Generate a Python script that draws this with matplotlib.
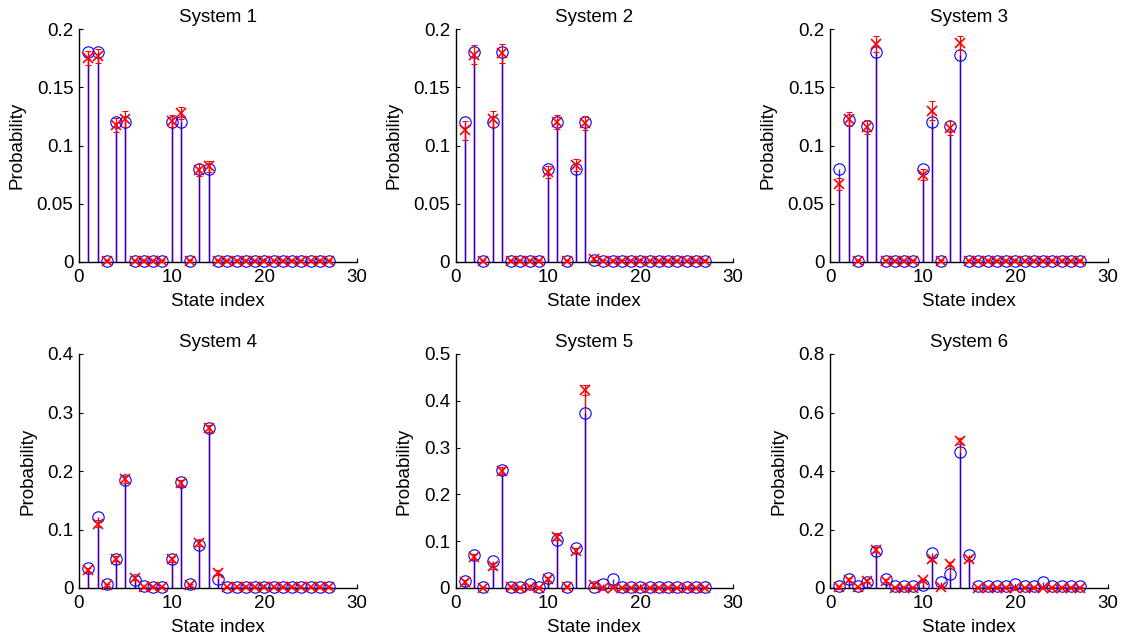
import matplotlib
matplotlib.use("Agg")
import matplotlib.pyplot as plt
import numpy as np
from matplotlib.ticker import FuncFormatter

plt.rcParams['font.family'] = ['Liberation Sans', 'DejaVu Sans']

states = list(range(1, 28))

# Theory (blue circles)
theory_1 = [0.18, 0.18, 0.001, 0.12, 0.12, 0.001, 0.001, 0.001, 0.001, 0.12, 0.12, 0.001, 0.08, 0.08,
            0.001, 0.001, 0.001, 0.001, 0.001, 0.001, 0.001, 0.001, 0.001, 0.001, 0.001, 0.001, 0.001]
theory_2 = [0.12, 0.18, 0.001, 0.12, 0.18, 0.001, 0.001, 0.001, 0.001, 0.08, 0.12, 0.001, 0.08, 0.12,
            0.002, 0.001, 0.001, 0.001, 0.001, 0.001, 0.001, 0.001, 0.001, 0.001, 0.001, 0.001, 0.001]
theory_3 = [0.08, 0.122, 0.001, 0.117, 0.18, 0.001, 0.001, 0.001, 0.001, 0.08, 0.12, 0.001, 0.117, 0.178,
            0.001, 0.001, 0.001, 0.001, 0.001, 0.001, 0.001, 0.001, 0.001, 0.001, 0.001, 0.001, 0.001]
theory_4 = [0.034, 0.122, 0.007, 0.05, 0.185, 0.013, 0.003, 0.002, 0.002, 0.05, 0.182, 0.007, 0.074, 0.273,
            0.015, 0.002, 0.002, 0.002, 0.002, 0.002, 0.002, 0.002, 0.002, 0.002, 0.002, 0.002, 0.002]
theory_5 = [0.016, 0.07, 0.003, 0.058, 0.252, 0.003, 0.003, 0.008, 0.002, 0.022, 0.102, 0.003, 0.085, 0.373,
            0.003, 0.008, 0.019, 0.002, 0.002, 0.002, 0.002, 0.002, 0.002, 0.002, 0.002, 0.002, 0.002]
theory_6 = [0.006, 0.031, 0.006, 0.02, 0.125, 0.031, 0.006, 0.006, 0.006, 0.011, 0.12, 0.019, 0.049, 0.465,
            0.112, 0.006, 0.006, 0.006, 0.006, 0.014, 0.006, 0.006, 0.02, 0.006, 0.006, 0.006, 0.006]

# Experiment (red crosses)
exp_1 = [0.175, 0.177, 0.001, 0.118, 0.123, 0.001, 0.001, 0.001, 0.001, 0.121, 0.128, 0.001, 0.079, 0.082,
         0.001, 0.001, 0.001, 0.001, 0.001, 0.001, 0.001, 0.001, 0.001, 0.001, 0.001, 0.001, 0.001]
exp_2 = [0.113, 0.178, 0.001, 0.123, 0.179, 0.001, 0.001, 0.001, 0.001, 0.077, 0.12, 0.001, 0.083, 0.119,
         0.003, 0.001, 0.001, 0.001, 0.001, 0.001, 0.001, 0.001, 0.001, 0.001, 0.001, 0.001, 0.001]
exp_3 = [0.067, 0.123, 0.001, 0.116, 0.187, 0.001, 0.001, 0.001, 0.001, 0.075, 0.13, 0.001, 0.115, 0.188,
         0.001, 0.001, 0.001, 0.001, 0.001, 0.001, 0.001, 0.001, 0.001, 0.001, 0.001, 0.001, 0.001]
exp_4 = [0.031, 0.11, 0.005, 0.05, 0.186, 0.017, 0.001, 0.001, 0.001, 0.049, 0.18, 0.005, 0.077, 0.273,
         0.026, 0.001, 0.001, 0.001, 0.001, 0.001, 0.001, 0.001, 0.001, 0.001, 0.001, 0.001, 0.001]
exp_5 = [0.013, 0.067, 0.001, 0.047, 0.251, 0.002, 0.001, 0.002, 0.001, 0.019, 0.11, 0.002, 0.08, 0.423,
         0.007, 0.001, 0.001, 0.001, 0.001, 0.001, 0.001, 0.001, 0.001, 0.001, 0.001, 0.001, 0.001]
exp_6 = [0.002, 0.029, 0.002, 0.025, 0.131, 0.025, 0.001, 0.001, 0.001, 0.026, 0.099, 0.003, 0.083, 0.503,
         0.099, 0.001, 0.001, 0.001, 0.001, 0.001, 0.001, 0.001, 0.001, 0.001, 0.001, 0.001, 0.001]

# Experimental error bars
err_1 = [0.006, 0.006, 0.001, 0.006, 0.007, 0.001, 0.001, 0.001, 0.001, 0.005, 0.005, 0.001, 0.005, 0.005,
         0.001, 0.001, 0.001, 0.001, 0.001, 0.001, 0.001, 0.001, 0.001, 0.001, 0.001, 0.001, 0.001]
err_2 = [0.008, 0.008, 0.001, 0.007, 0.008, 0.001, 0.001, 0.001, 0.001, 0.005, 0.006, 0.001, 0.005, 0.006,
         0.001, 0.001, 0.001, 0.001, 0.001, 0.001, 0.001, 0.001, 0.001, 0.001, 0.001, 0.001, 0.001]
err_3 = [0.005, 0.006, 0.001, 0.006, 0.007, 0.001, 0.001, 0.001, 0.001, 0.005, 0.008, 0.001, 0.006, 0.006,
         0.001, 0.001, 0.001, 0.001, 0.001, 0.001, 0.001, 0.001, 0.001, 0.001, 0.001, 0.001, 0.001]
err_4 = [0.004, 0.006, 0.002, 0.004, 0.006, 0.004, 0.001, 0.001, 0.001, 0.004, 0.005, 0.002, 0.005, 0.006,
         0.004, 0.001, 0.001, 0.001, 0.001, 0.001, 0.001, 0.001, 0.001, 0.001, 0.001, 0.001, 0.001]
err_5 = [0.005, 0.006, 0.002, 0.006, 0.008, 0.002, 0.001, 0.002, 0.001, 0.005, 0.008, 0.002, 0.006, 0.01,
         0.004, 0.001, 0.001, 0.001, 0.001, 0.001, 0.001, 0.001, 0.001, 0.001, 0.001, 0.001, 0.001]
err_6 = [0.004, 0.006, 0.003, 0.005, 0.008, 0.005, 0.002, 0.002, 0.002, 0.005, 0.008, 0.003, 0.007, 0.01,
         0.007, 0.002, 0.002, 0.002, 0.002, 0.002, 0.002, 0.002, 0.002, 0.002, 0.002, 0.002, 0.002]

titles = ["System 1", "System 2", "System 3", "System 4", "System 5", "System 6"]
theories = [theory_1, theory_2, theory_3, theory_4, theory_5, theory_6]
exps = [exp_1, exp_2, exp_3, exp_4, exp_5, exp_6]
errs = [err_1, err_2, err_3, err_4, err_5, err_6]
ylims = [0.2, 0.2, 0.2, 0.4, 0.5, 0.8]
ysteps = [0.05, 0.05, 0.05, 0.1, 0.1, 0.2]

W, H = 1124, 640
fig = plt.figure(figsize=(W / 100, H / 100), dpi=100)

lefts = [79, 455.7, 830]
rights = [357, 732.7, 1108]
tops = [29, 354]
bottoms = [262, 588]

fmt = FuncFormatter(lambda v, p: ("%g" % round(v, 4)))
FS = 13.5

for i in range(6):
    r, c = divmod(i, 3)
    l, rr = lefts[c], rights[c]
    t, b = tops[r], bottoms[r]
    ax = fig.add_axes([l / W, 1 - b / H, (rr - l) / W, (b - t) / H])
    x = np.array(states)
    th = np.array(theories[i])
    ex = np.array(exps[i])
    er = np.array(errs[i])

    ax.vlines(x, 0, ex, colors='red', lw=1.0, zorder=2)
    ax.vlines(x, 0, th, colors='blue', lw=1.0, alpha=0.85, zorder=3)
    ax.plot(x, th, 'o', ms=8.2, mfc='none', mec='blue', mew=0.8, zorder=4, clip_on=False)
    ax.errorbar(x, ex, yerr=er, fmt='none', ecolor='red', elinewidth=0.8, capsize=2.5,
                capthick=0.8, zorder=5, clip_on=False)
    ax.plot(x, ex, 'x', ms=6.5, mec='red', mew=1.2, zorder=6, clip_on=False)

    ax.set_xlim(0, 30)
    ax.set_ylim(0, ylims[i])
    ax.set_xticks([0, 10, 20, 30])
    ax.set_yticks(np.arange(0, ylims[i] + 1e-9, ysteps[i]))
    ax.yaxis.set_major_formatter(fmt)
    for s in ['top', 'right']:
        ax.spines[s].set_visible(False)
    for s in ['left', 'bottom']:
        ax.spines[s].set_linewidth(1.0)
        ax.spines[s].set_color('black')
    ax.tick_params(direction='in', length=3, width=0.8, labelsize=FS)
    ax.tick_params(axis='x', pad=5)
    ax.tick_params(axis='y', pad=4)
    ax.set_title(titles[i], fontsize=FS, pad=5)
    ax.set_xlabel("State index", fontsize=FS, labelpad=5)
    ax.set_ylabel("Probability", fontsize=FS, labelpad=8)

fig.savefig("out.png", dpi=100)
